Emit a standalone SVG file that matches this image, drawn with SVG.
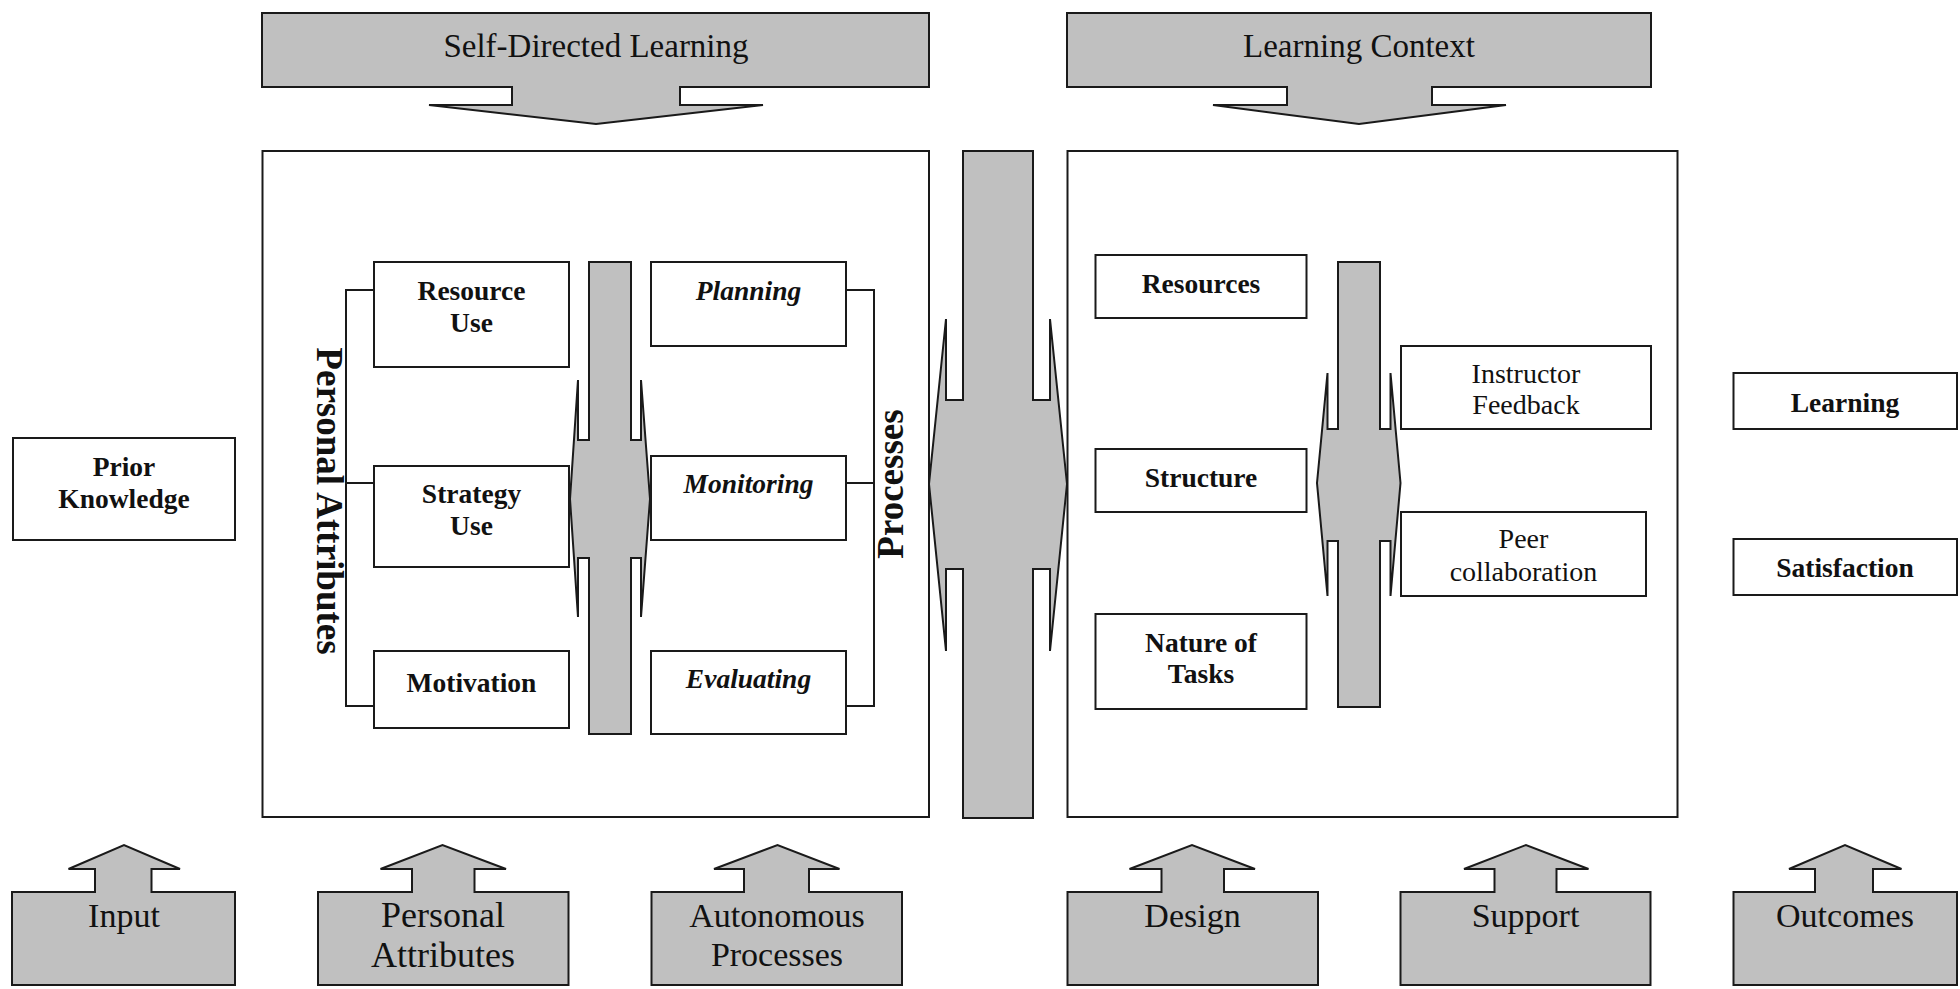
<svg xmlns="http://www.w3.org/2000/svg" width="1960" height="989" viewBox="0 0 1960 989">
<style>
.box{fill:#fff;stroke:#1a1a1a;stroke-width:2}
.gray{fill:#c0c0c0;stroke:#1a1a1a;stroke-width:2;stroke-linejoin:miter}
.ln{fill:none;stroke:#1a1a1a;stroke-width:2}
text{font-family:"Liberation Serif","Times New Roman",serif;fill:#111;text-anchor:middle}
.b{font-weight:bold;font-size:27.5px}
.bi{font-weight:bold;font-style:italic;font-size:27.5px}
.r{font-size:28px}
.big{font-size:33px}
.bot{font-size:34px}
.vert{font-weight:bold;font-size:37px}
</style>
<rect width="1960" height="989" fill="#fff"/>

<g id="top-sdl">
<path class="gray" d="M262,13 H929 V87 H680 V105 H763 L596,124 L429,105 H512 V87 H262 Z"/>
<text class="big" x="596" y="57">Self-Directed Learning</text>
</g>
<g id="top-context">
<path class="gray" d="M1067,13 H1651 V87 H1432 V105 H1506 L1359,124 L1213,105 H1287 V87 H1067 Z"/>
<text class="big" x="1359" y="57">Learning Context</text>
</g>

<g id="panel-sdl"><rect class="box" x="262.5" y="151" width="666.5" height="666"/></g>
<g id="panel-context"><rect class="box" x="1067.5" y="151" width="610" height="666"/></g>

<g id="central-arrow">
<path class="gray" d="M963,151 H1033 V400 H1050 V319 L1067,484 L1050,651 V569 H1033 V818 H963 V569 H946 V651 L929,484 L946,319 V400 H963 Z"/>
</g>

<g id="connectors">
<path class="ln" d="M374,290 H346 V706 H374 M346,483 H374"/>
<path class="ln" d="M846,290 H874 V706 H846 M846,483 H874"/>
</g>

<g id="label-personal-attributes">
<text class="vert" transform="translate(317,501) rotate(90)">Personal Attributes</text>
</g>
<g id="label-processes">
<text class="vert" transform="translate(903,484) rotate(-90)">Processes</text>
</g>

<g id="inner-arrow-left">
<path class="gray" d="M589,262 H631 V440 H641 V380 L650,499 L641,617 V558 H631 V734 H589 V558 H578 V617 L570,499 L578,380 V440 H589 Z"/>
</g>

<g id="resource-use">
<rect class="box" x="374" y="262" width="195" height="105"/>
<text class="b" x="471.5" y="300">Resource</text>
<text class="b" x="471.5" y="332">Use</text>
</g>
<g id="strategy-use">
<rect class="box" x="374" y="466" width="195" height="101"/>
<text class="b" x="471.5" y="503">Strategy</text>
<text class="b" x="471.5" y="535">Use</text>
</g>
<g id="motivation">
<rect class="box" x="374" y="651" width="195" height="77"/>
<text class="b" x="471.5" y="692">Motivation</text>
</g>
<g id="planning">
<rect class="box" x="651" y="262" width="195" height="84"/>
<text class="bi" x="748.5" y="300">Planning</text>
</g>
<g id="monitoring">
<rect class="box" x="651" y="456" width="195" height="84"/>
<text class="bi" x="748.5" y="493">Monitoring</text>
</g>
<g id="evaluating">
<rect class="box" x="651" y="651" width="195" height="83"/>
<text class="bi" x="748.5" y="688">Evaluating</text>
</g>

<g id="inner-arrow-right">
<path class="gray" d="M1338,262 H1380 V429 H1390.5 V373 L1400.5,483 L1390.5,596 V541 H1380 V707 H1338 V541 H1327.5 V596 L1317,483 L1327.5,373 V429 H1338 Z"/>
</g>

<g id="resources">
<rect class="box" x="1095.5" y="255" width="211" height="63"/>
<text class="b" x="1201" y="293">Resources</text>
</g>
<g id="structure">
<rect class="box" x="1095.5" y="449" width="211" height="63"/>
<text class="b" x="1201" y="487">Structure</text>
</g>
<g id="nature-of-tasks">
<rect class="box" x="1095.5" y="614" width="211" height="95"/>
<text class="b" x="1201" y="652">Nature of</text>
<text class="b" x="1201" y="683">Tasks</text>
</g>
<g id="instructor-feedback">
<rect class="box" x="1401" y="346" width="250" height="83"/>
<text class="r" x="1526" y="383">Instructor</text>
<text class="r" x="1526" y="414">Feedback</text>
</g>
<g id="peer-collaboration">
<rect class="box" x="1401" y="512" width="245" height="84"/>
<text class="r" x="1523.5" y="548">Peer</text>
<text class="r" x="1523.5" y="581">collaboration</text>
</g>

<g id="prior-knowledge">
<rect class="box" x="13" y="438" width="222" height="102"/>
<text class="b" x="124" y="476">Prior</text>
<text class="b" x="124" y="508">Knowledge</text>
</g>
<g id="learning">
<rect class="box" x="1733.5" y="373" width="223.5" height="56"/>
<text class="b" x="1845" y="412">Learning</text>
</g>
<g id="satisfaction">
<rect class="box" x="1733.5" y="539" width="223.5" height="56"/>
<text class="b" x="1845" y="577">Satisfaction</text>
</g>

<g id="bottom-input">
<path class="gray" d="M12,892 H95 V869 H68.5 L124,845 L180,869 H151.5 V892 H235 V985 H12 Z"/>
<text class="bot" x="124" y="927">Input</text>
</g>
<g id="bottom-personal">
<path class="gray" d="M318,892 H412 V869 H380.5 L442.5,845 L506,869 H474.5 V892 H568.5 V985 H318 Z"/>
<text class="bot" x="443" y="927" style="font-size:36px">Personal</text>
<text class="bot" x="443" y="967" style="font-size:36px">Attributes</text>
</g>
<g id="bottom-autonomous">
<path class="gray" d="M651.5,892 H744 V869 H714 L777.5,845 L839.5,869 H809 V892 H902 V985 H651.5 Z"/>
<text class="bot" x="777" y="927">Autonomous</text>
<text class="bot" x="777" y="966">Processes</text>
</g>
<g id="bottom-design">
<path class="gray" d="M1067.5,892 H1161.5 V869 H1129.5 L1192,845 L1255,869 H1224 V892 H1318 V985 H1067.5 Z"/>
<text class="bot" x="1192.5" y="927">Design</text>
</g>
<g id="bottom-support">
<path class="gray" d="M1400.5,892 H1494.5 V869 H1464 L1526,845 L1588.5,869 H1556.5 V892 H1650.5 V985 H1400.5 Z"/>
<text class="bot" x="1525.5" y="927">Support</text>
</g>
<g id="bottom-outcomes">
<path class="gray" d="M1733.5,892 H1815 V869 H1789 L1845,845 L1901.5,869 H1873 V892 H1957 V985 H1733.5 Z"/>
<text class="bot" x="1845" y="927">Outcomes</text>
</g>
</svg>
